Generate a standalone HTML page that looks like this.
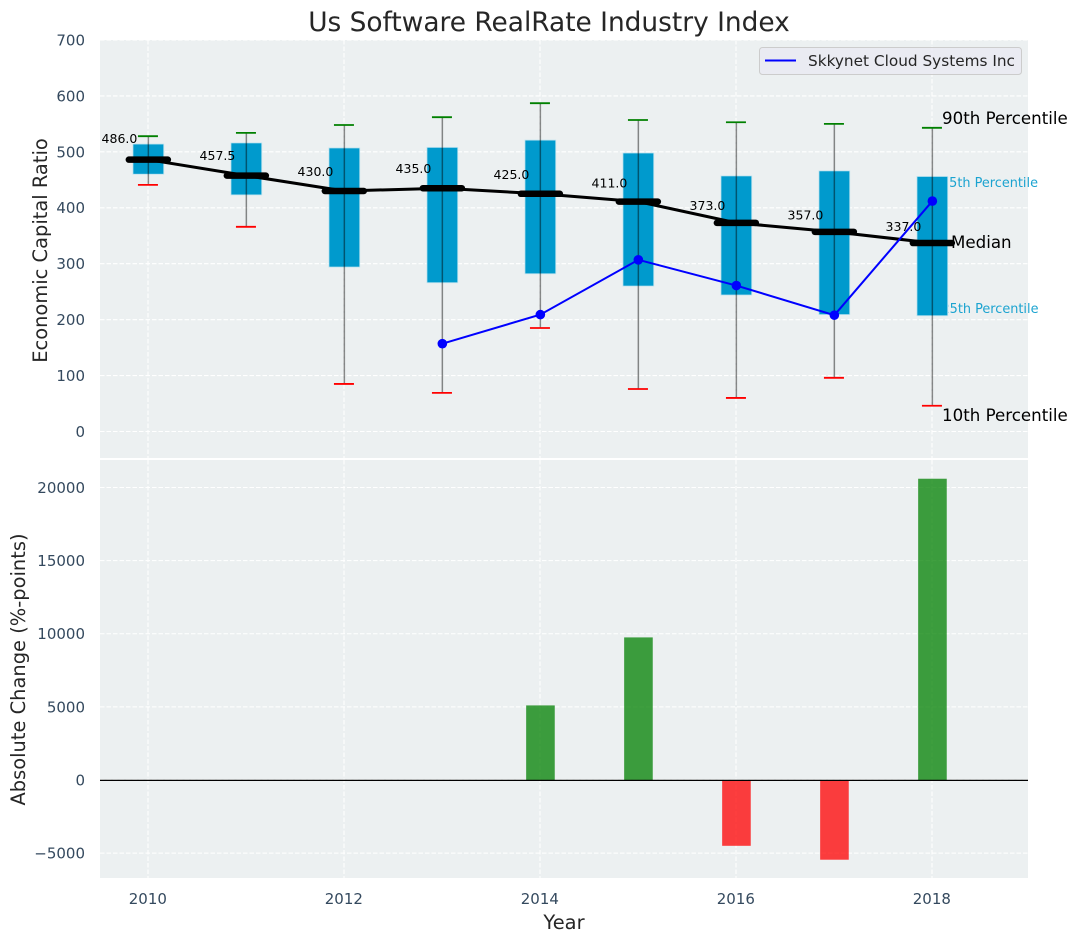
<!DOCTYPE html>
<html>
<head>
<meta charset="utf-8">
<title>Us Software RealRate Industry Index</title>
<style>
html,body{margin:0;padding:0;background:#fff;}
svg{display:block;font-family:"DejaVu Sans","Liberation Sans",sans-serif;}
</style>
</head>
<body>
<svg id="chart" width="1077" height="942" viewBox="0 0 1077 942" xmlns="http://www.w3.org/2000/svg">
  <rect x="0" y="0" width="1077" height="942" fill="#ffffff"/>
  <text x="549" y="31" font-size="26.4" fill="#262626" text-anchor="middle">Us Software RealRate Industry Index</text>
  <rect x="100" y="40" width="928" height="418" fill="#ecf0f1"/>
  <rect x="100" y="460" width="928" height="418" fill="#ecf0f1"/>
  <g id="grid-top"></g>
  <g id="grid-bottom"></g>
  <text x="941" y="187" font-size="12.85" fill="#1ba3d0">75th Percentile</text>
  <text x="941.5" y="313" font-size="12.85" fill="#1ba3d0">25th Percentile</text>
  <g id="boxes"></g>
  <g id="series"></g>
  <g id="median-labels"></g>
  <g id="bars"></g>
  <g id="ticks"></g>
  <text x="942" y="124" font-size="16.67" fill="#000000">90th Percentile</text>
  <text x="951" y="248" font-size="16.67" fill="#000000">Median</text>
  <text x="942" y="421" font-size="16.67" fill="#000000">10th Percentile</text>
  <g>
    <rect x="759.5" y="47.5" width="262" height="27" rx="3" fill="#eaeaf2" fill-opacity="0.8" stroke="#cccccc"/>
    <line x1="765" y1="60.5" x2="796" y2="60.5" stroke="#0000ff" stroke-width="2"/>
    <text x="808" y="66" font-size="15.3" fill="#262626">Skkynet Cloud Systems Inc</text>
  </g>
  <text x="564" y="929" font-size="19.44" fill="#262626" text-anchor="middle">Year</text>
  <text transform="translate(47 250.5) rotate(-90)" font-size="19.44" fill="#262626" text-anchor="middle">Economic Capital Ratio</text>
  <text transform="translate(25 669.5) rotate(-90)" font-size="19.44" fill="#262626" text-anchor="middle">Absolute Change (%-points)</text>
</svg>
<script>
var years = [2010, 2011, 2012, 2013, 2014, 2015, 2016, 2017, 2018];
var whiskerHigh = [528, 534, 548, 562, 587, 557, 553, 550, 543];
var boxTop = [514, 516, 507, 508, 521, 498, 457, 466, 456];
var medians = [486, 457.5, 430, 435, 425, 411, 373, 357, 337];
var boxBottom = [460, 423, 294, 266, 282, 260, 244, 209, 207];
var whiskerLow = [441, 366, 85, 69, 185, 76, 60, 96, 46];
var seriesYears = [2013, 2014, 2015, 2016, 2017, 2018];
var seriesValues = [157, 209, 307, 261, 208, 412];
var barYears = [2014, 2015, 2016, 2017, 2018];
var barValues = [5100, 9750, -4500, -5450, 20600];
var xTicks = [2010, 2012, 2014, 2016, 2018];
var topTicks = [0, 100, 200, 300, 400, 500, 600, 700];
var bottomTicks = [-5000, 0, 5000, 10000, 15000, 20000];

var SVGNS = 'http://www.w3.org/2000/svg';
function xScale(v) { return 148.35 + (v - 2010) * 98; }
function yTop(v) { return 431.5 - v * 0.55929; }
function yBottom(v) { return 780 - v * 0.014625; }
function make(parentId, tag, attrs, name, label) {
  var el = document.createElementNS(SVGNS, tag);
  for (var k in attrs) { el.setAttribute(k, attrs[k]); }
  
  
  if (label !== undefined) { el.textContent = label; }
  document.getElementById(parentId).appendChild(el);
  return el;
}
var GRID = { stroke: '#ffffff', 'stroke-width': 1.1, 'stroke-dasharray': '4.5 2' };
function gridLine(parent, x1, y1, x2, y2, name) {
  make(parent, 'line', { x1: x1, y1: y1, x2: x2, y2: y2, stroke: GRID.stroke, 'stroke-width': GRID['stroke-width'], 'stroke-dasharray': GRID['stroke-dasharray'] }, name);
}

topTicks.forEach(function (t) {
  gridLine('grid-top', 100, yTop(t), 1028, yTop(t), 'grid-line-y-' + t);
  make('ticks', 'text', { x: 85, y: yTop(t) + 5.4, 'font-size': 15, fill: '#34495e', 'text-anchor': 'end' }, 'y-tick-' + t, String(t));
});
bottomTicks.forEach(function (t) {
  gridLine('grid-bottom', 100, yBottom(t), 1028, yBottom(t), 'grid-line-change-' + t);
  var lab = (t < 0 ? '\u2212' + Math.abs(t) : String(t));
  make('ticks', 'text', { x: 85, y: yBottom(t) + 5.4, 'font-size': 15, fill: '#34495e', 'text-anchor': 'end' }, 'change-tick-' + t, lab);
});
xTicks.forEach(function (t) {
  gridLine('grid-top', xScale(t) - 0.35, 40, xScale(t) - 0.35, 458, 'grid-line-x-top-' + t);
  gridLine('grid-bottom', xScale(t) - 0.35, 460, xScale(t) - 0.35, 878, 'grid-line-x-bottom-' + t);
  make('ticks', 'text', { x: xScale(t) - 0.5, y: 904, 'font-size': 15, fill: '#34495e', 'text-anchor': 'middle' }, 'x-tick-' + t, String(t));
});

years.forEach(function (yr, i) {
  var x = xScale(yr);
  make('boxes', 'rect', { x: x - 15.4, y: yTop(boxTop[i]), width: 30.8, height: yTop(boxBottom[i]) - yTop(boxTop[i]), fill: '#009acd', stroke: '#bfe3ef', 'stroke-width': 0.8 }, 'box-' + yr);
});
years.forEach(function (yr, i) {
  var x = xScale(yr);
  make('boxes', 'line', { x1: x, y1: yTop(whiskerHigh[i]), x2: x, y2: yTop(whiskerLow[i]), stroke: '#000000', 'stroke-opacity': 0.45, 'stroke-width': 1.5 }, 'whisker-' + yr);
  make('boxes', 'line', { x1: x - 10.4, y1: yTop(whiskerHigh[i]), x2: x + 9.6, y2: yTop(whiskerHigh[i]), stroke: '#008000', 'stroke-width': 1.8 }, 'cap-high-' + yr);
  make('boxes', 'line', { x1: x - 10.4, y1: yTop(whiskerLow[i]), x2: x + 9.6, y2: yTop(whiskerLow[i]), stroke: '#ff0000', 'stroke-width': 1.8 }, 'cap-low-' + yr);
});

var medianPath = years.map(function (yr, i) { return (i ? 'L' : 'M') + xScale(yr) + ' ' + yTop(medians[i]); }).join(' ');
make('boxes', 'path', { d: medianPath, fill: 'none', stroke: '#000000', 'stroke-width': 3 }, 'median-trend-line');
years.forEach(function (yr, i) {
  var x = xScale(yr);
  make('boxes', 'line', { x1: x - 19.5, y1: yTop(medians[i]), x2: x + 19.5, y2: yTop(medians[i]), stroke: '#000000', 'stroke-width': 6.5, 'stroke-linecap': 'round' }, 'median-mark-' + yr);
  make('median-labels', 'text', { x: x - 46.8, y: yTop(medians[i] * 1.06) - 0.5, 'font-size': 12.5, fill: '#000000' }, 'median-label-' + yr, medians[i].toFixed(1));
});

var seriesPath = seriesYears.map(function (yr, i) { return (i ? 'L' : 'M') + xScale(yr) + ' ' + yTop(seriesValues[i]); }).join(' ');
make('series', 'path', { d: seriesPath, fill: 'none', stroke: '#0000ff', 'stroke-width': 2 }, 'skkynet-line');
seriesYears.forEach(function (yr, i) {
  make('series', 'circle', { cx: xScale(yr), cy: yTop(seriesValues[i]), r: 4.8, fill: '#0000ff' }, 'skkynet-point-' + yr);
});

barYears.forEach(function (yr, i) {
  var v = barValues[i];
  var y0 = yBottom(Math.max(v, 0));
  var y1 = yBottom(Math.min(v, 0));
  make('bars', 'rect', { x: xScale(yr) - 14.2, y: y0, width: 28.6, height: y1 - y0, fill: v >= 0 ? '#008000' : '#ff0000', 'fill-opacity': 0.75 }, 'bar-' + yr);
});
make('bars', 'line', { x1: 100, y1: yBottom(0) + 0.4, x2: 1028, y2: yBottom(0) + 0.4, stroke: '#000000', 'stroke-width': 1.3 }, 'zero-line');
</script>
</body>
</html>
